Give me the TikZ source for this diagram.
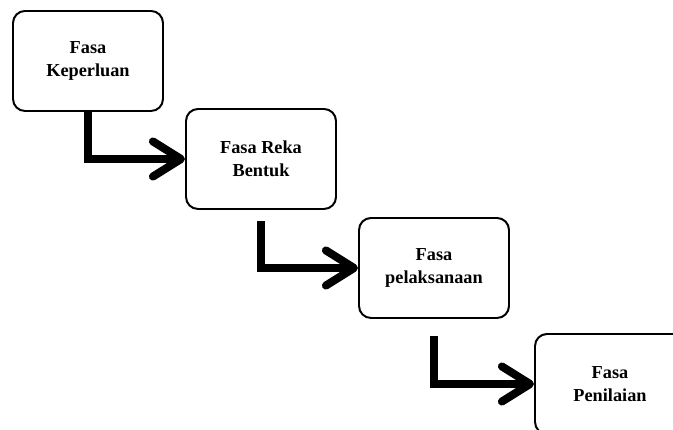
\documentclass[tikz,border=0pt]{standalone}
\usepackage{fontspec}
\setmainfont{Liberation Serif}
\usepackage{tikz}
\usetikzlibrary{arrows.meta}

\begin{document}
\begin{tikzpicture}[
	fasa/.style={draw,line width=1.4pt,rounded corners=0.3cm,minimum width=3.75cm,
		minimum height=2.5cm,align=center,font=\bfseries\fontsize{13}{16}\selectfont},
	aliran/.style={line width=5.7pt,-{Straight Barb[length=20pt,width=25pt,round]}}]
  \useasboundingbox (0,0) rectangle (16.825,10.75);
  \fill[white] (0,0) rectangle (16.825,10.75);
  \clip (0,0) rectangle (16.825,10.75);
  % the four phases
  \node[fasa] (keperluan) at (2.2,9.225) {Fasa\\Keperluan};
  \node[fasa] (reka) at (6.525,6.775) {Fasa Reka\\Bentuk};
  \node[fasa] (pelaksanaan) at (10.85,4.05) {Fasa\\pelaksanaan};
  \node[fasa] (penilaian) at (15.25,1.15) {Fasa\\Penilaian};
  % the steps
  \draw[aliran] (keperluan.south) |- (reka.west);
  \draw[aliran,shorten <=0.28cm] (reka.south) |- (pelaksanaan.west);
  \draw[aliran,shorten <=0.42cm] (pelaksanaan.south) |- (penilaian.west);
\end{tikzpicture}
\end{document}
